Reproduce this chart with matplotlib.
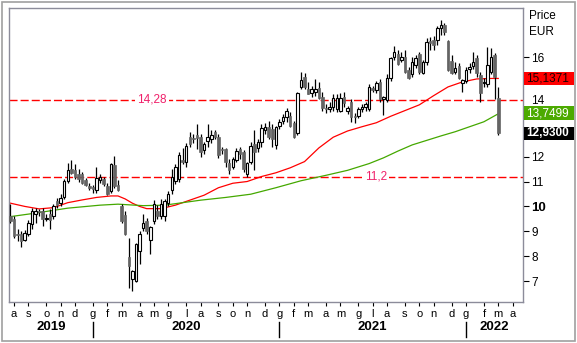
import numpy as np
import pandas as pd
import matplotlib
matplotlib.use('Agg')
import matplotlib.pyplot as plt
import matplotlib.transforms as mtransforms
from matplotlib.patches import Rectangle

plt.rcParams['font.family'] = ['Liberation Sans', 'DejaVu Sans']

# weekly candles, first week starts 2019-07-29
start_date = '2019-07-29'

opens = [9.62, 9.5, 8.9, 8.9, 8.67, 8.88, 9.29, 9.7, 9.8, 9.8,
         9.5, 9.7, 9.6, 10.2, 10.15, 10.38, 11.03, 11.5, 11.47, 11.3,
         11.3, 11.05, 10.8, 10.76, 10.67, 11.07, 11.1, 10.8, 10.6, 11.67,
         10.87, 10.0, 9.65, 7.96, 7.1, 7.0, 8.2, 9.13, 9.4, 8.64,
         9.4, 9.8, 9.6, 9.6, 10.15, 10.67, 11.03, 11.1, 11.87, 11.77,
         12.8, 12.75, 12.85, 12.77, 12.27, 12.62, 12.7, 12.97, 12.8, 12.3,
         12.3, 11.73, 11.6, 11.88, 12.3, 12.17, 11.3, 11.77, 12.5, 12.35,
         12.58, 13.05, 13.18, 13.1, 12.48, 13.25, 13.45, 13.58, 13.65, 13.35,
         12.93, 14.78, 15.2, 14.73, 14.55, 14.6, 14.75, 14.4, 13.95, 13.9,
         14.0, 13.9, 13.85, 14.4, 13.85, 14.2, 13.65, 13.65, 13.9, 14.0,
         13.9, 14.75, 14.67, 15.0, 14.3, 14.26, 15.15, 16.0, 16.12, 15.9,
         16.0, 15.47, 15.3, 15.68, 16.12, 15.36, 15.8, 16.65, 16.7, 16.67,
         17.16, 17.3, 16.65, 15.86, 15.4, 15.64, 14.95, 15.05, 15.5, 15.64,
         15.96, 15.27, 14.95, 14.9, 15.4, 16.1, 14.37]
highs = [10.1, 9.6, 9.1, 9.0, 9.05, 9.45, 9.94, 9.95, 9.9, 9.95,
         9.7, 9.9, 10.1, 10.35, 10.5, 11.1, 11.75, 11.85, 11.7, 11.5,
         11.4, 11.15, 10.95, 10.85, 11.57, 11.3, 11.2, 10.95, 11.75, 12.04,
         11.05, 10.1, 9.8, 8.74, 7.45, 8.55, 9.0, 9.7, 9.55, 9.2,
         10.25, 10.05, 10.3, 10.3, 10.6, 11.5, 11.7, 12.2, 12.35, 12.55,
         13.0, 12.9, 13.3, 12.9, 12.6, 13.3, 13.05, 13.05, 12.9, 12.4,
         12.35, 11.9, 12.0, 12.35, 12.4, 12.25, 11.8, 12.6, 13.05, 12.7,
         13.3, 13.35, 13.45, 13.3, 13.25, 13.5, 13.7, 13.95, 13.8, 13.45,
         14.6, 15.4, 15.35, 15.0, 14.85, 15.1, 15.0, 14.6, 14.1, 14.2,
         14.5, 14.5, 14.55, 14.6, 14.05, 14.3, 13.75, 14.0, 14.1, 14.2,
         14.9, 14.85, 15.05, 15.1, 14.45, 15.3, 16.0, 16.45, 16.3, 16.2,
         16.3, 15.6, 16.0, 16.1, 16.2, 15.9, 16.75, 16.8, 16.85, 17.25,
         17.5, 17.35, 16.7, 16.1, 15.8, 15.75, 15.1, 15.6, 15.75, 16.2,
         16.1, 15.4, 15.15, 16.4, 16.35, 16.15, 14.8]
lows = [9.35, 8.75, 8.6, 8.36, 8.6, 8.8, 9.1, 9.35, 9.6, 9.2,
        9.4, 9.1, 9.5, 9.95, 10.0, 10.3, 10.95, 11.3, 11.1, 11.0,
        10.9, 10.8, 10.65, 10.55, 10.55, 10.95, 10.8, 10.45, 10.55, 10.75,
        10.6, 9.35, 8.85, 6.72, 6.6, 6.95, 7.7, 9.0, 8.9, 8.08,
        9.3, 9.5, 9.5, 9.4, 10.0, 10.5, 10.9, 11.0, 11.7, 11.6,
        12.4, 12.55, 12.3, 12.0, 12.1, 12.4, 12.55, 12.7, 11.95, 12.1,
        11.6, 11.3, 11.5, 11.8, 11.9, 11.4, 11.2, 11.7, 11.45, 12.2,
        12.4, 12.9, 12.7, 12.4, 12.3, 13.1, 13.3, 13.4, 13.2, 12.75,
        12.85, 14.7, 14.7, 14.5, 14.4, 14.45, 14.3, 13.85, 13.75, 13.8,
        13.85, 13.8, 13.8, 14.0, 13.7, 13.4, 13.35, 13.55, 13.8, 13.85,
        13.85, 14.6, 14.55, 14.2, 13.66, 14.2, 15.05, 15.9, 15.7, 15.8,
        15.35, 15.1, 15.2, 15.55, 15.3, 15.3, 15.7, 16.3, 16.3, 16.5,
        16.9, 16.9, 15.45, 15.3, 15.3, 15.1, 14.6, 14.95, 15.35, 15.5,
        15.2, 14.2, 14.8, 14.8, 15.3, 14.3, 12.85]
closes = [9.42, 8.8, 8.85, 8.6, 8.94, 9.35, 9.82, 9.8, 9.78, 9.5,
          9.55, 9.45, 10.0, 10.05, 10.35, 11.03, 11.47, 11.35, 11.2, 11.1,
          10.95, 10.85, 10.75, 10.69, 11.15, 11.2, 10.9, 10.5, 11.7, 10.82,
          10.67, 9.4, 8.9, 7.6, 7.4, 8.5, 8.9, 9.35, 9.0, 9.17,
          10.1, 9.6, 10.1, 10.2, 10.5, 11.2, 11.57, 12.08, 11.77, 12.44,
          12.5, 12.7, 12.75, 12.2, 12.5, 12.77, 12.85, 12.78, 12.08, 12.25,
          11.8, 11.46, 11.9, 12.24, 12.1, 11.5, 11.73, 12.44, 12.17, 12.58,
          13.13, 13.18, 12.78, 12.7, 13.2, 13.39, 13.58, 13.83, 13.25, 12.8,
          14.55, 15.07, 14.8, 14.53, 14.7, 14.7, 14.35, 13.94, 13.9, 14.0,
          14.35, 14.35, 14.35, 14.14, 13.95, 13.6, 13.6, 13.9, 14.0, 14.1,
          14.8, 14.68, 14.95, 14.3, 14.4, 15.15, 15.96, 16.2, 15.72, 16.0,
          15.4, 15.15, 15.8, 15.96, 15.4, 15.8, 16.6, 16.55, 16.5, 17.16,
          17.3, 17.0, 15.47, 15.36, 15.55, 15.14, 15.07, 15.47, 15.6, 15.8,
          15.35, 14.56, 15.0, 15.7, 16.0, 15.2, 12.93]

# moving averages (week index, value)
red_ma_idx = [0, 4, 8, 12, 16, 20, 24, 28, 30, 32, 34, 36, 38, 42, 46, 50, 54, 58, 62,
              66, 70, 74, 78, 82, 86, 90, 94, 98, 102, 106, 110, 114, 118, 122, 126, 130, 134, 136]
red_ma = [10.13, 10.0, 9.9, 9.95, 10.15, 10.26, 10.36, 10.42, 10.42, 10.3, 10.13, 10.0, 9.91,
          9.91, 10.05, 10.25, 10.45, 10.75, 10.93, 11.0, 11.2, 11.35, 11.55, 11.8, 12.35, 12.78,
          13.03, 13.2, 13.36, 13.62, 13.85, 14.08, 14.45, 14.8, 15.0, 15.12, 15.14, 15.14]
green_ma_idx = [0, 6, 16, 25, 30, 37, 43, 53, 60, 67, 74, 81, 88, 94, 100, 104, 108, 112,
                116, 120, 124, 128, 132, 136]
green_ma = [9.59, 9.71, 9.93, 10.05, 10.09, 10.03, 10.05, 10.25, 10.36, 10.49, 10.75, 11.03,
            11.25, 11.45, 11.72, 11.95, 12.22, 12.47, 12.65, 12.83, 13.0, 13.2, 13.4, 13.72]

levels = [14.28, 11.2]
level_labels = ['14,28', '11,2']
last_red, last_green, last_close = 15.1371, 13.7499, 12.93
month_letters = {1: 'g', 2: 'f', 3: 'm', 4: 'a', 5: 'm', 6: 'g', 7: 'l',
                 8: 'a', 9: 's', 10: 'o', 11: 'n', 12: 'd'}
y_ticks = [7, 8, 9, 10, 11, 12, 13, 14, 15, 16]
y_labels = ['7', '8', '9', '10', '11', '12', '', '14', '', '16']  # 13, 15 sit under the value boxes

n = len(closes)
idx = np.arange(n)
dates = pd.date_range(start_date, periods=n + 8, freq='7D')

fig = plt.figure(figsize=(5.77, 3.43), dpi=100)
ax = fig.add_axes([9 / 577, 41 / 343, 514 / 577, 294 / 343])
ax.set_xlim(-0.39, 142.9)
ax.set_ylim(6.16, 17.97)

# moving averages
ax.plot(red_ma_idx, red_ma, color='#ff0000', lw=0.9, zorder=2)
ax.plot(green_ma_idx, green_ma, color='#44a800', lw=0.9, zorder=2)

# horizontal levels
for lv, lab, xl in zip(levels, level_labels, [39.5, 101.9]):
    ax.axhline(lv, color='#ff0000', lw=1.0, ls=(0, (5.8, 2.2)), zorder=1.5)
    ax.text(xl, lv, lab, color='#f0206a', fontsize=8.5, ha='center', va='center',
            bbox=dict(facecolor='white', edgecolor='none', pad=1.5), zorder=1.6)

# candles
o = np.array(opens); h = np.array(highs); l = np.array(lows); c = np.array(closes)
up = c >= o
ax.vlines(idx, l, h, color='black', lw=0.9, zorder=3)
ax.bar(idx[up], (c - o)[up], bottom=o[up], width=0.7, color='white',
       edgecolor='black', lw=0.8, zorder=4)
ax.bar(idx[~up], (o - c)[~up], bottom=c[~up], width=0.7, color='#646464',
       edgecolor='#646464', lw=0.5, zorder=4)

# axes styling
for s in ax.spines.values():
    s.set_color('#8c8c9a')
    s.set_linewidth(1.0)
ax.yaxis.tick_right()
ax.set_yticks(y_ticks)
ax.set_yticklabels(y_labels)
ax.tick_params(axis='y', length=4, width=0.8, pad=2, labelsize=8.5, colors='black')
for t in ax.get_yticklabels():
    if t.get_text() == '10':
        t.set_fontweight('bold')
        t.set_fontsize(9.5)
    if t.get_text() == '14':
        t.set_va('bottom')

# month ticks
m_idx, m_lab, jan_idx = [], [], []
for i in range(1, len(dates)):
    if dates[i].month != dates[i - 1].month and i <= 142:
        m_idx.append(i)
        m_lab.append(month_letters[dates[i].month])
        if dates[i].month == 1:
            jan_idx.append(i)
ax.set_xticks(m_idx)
ax.set_xticklabels(m_lab)
ax.tick_params(axis='x', length=3, width=0.8, pad=2, labelsize=8)

# years
trans = mtransforms.blended_transform_factory(ax.transData, ax.transAxes)
bounds = [-0.39] + jan_idx + [142.9]
years = ['2019', '2020', '2021', '2022']
for k, yr in enumerate(years):
    ax.text((bounds[k] + bounds[k + 1]) / 2, -0.085, yr, transform=trans, ha='center',
            va='center', fontsize=9.5, fontweight='bold')
for j in jan_idx:
    ax.plot([j, j], [-0.068, -0.12], transform=trans, color='black', lw=1, clip_on=False)

# value boxes on right
tr2 = mtransforms.blended_transform_factory(ax.transAxes, ax.transData)
bh = 13.5 / 24.89
for val, fc, tc, txt in [(last_red, '#ff0000', '#1a0000', '15,1371'),
                         (last_green, '#4caa00', 'white', '13,7499'),
                         (last_close, 'black', 'white', '12,9300')]:
    ax.add_patch(Rectangle((1.002, val - bh / 2), 0.0975, bh, transform=tr2,
                           facecolor=fc, edgecolor='none', clip_on=False, zorder=5))
    ax.text(1.006, val, txt, transform=tr2, color=tc, fontsize=8.5, ha='left',
            va='center', fontweight='bold' if fc == 'black' else 'normal',
            clip_on=False, zorder=6)

fig.text(529 / 577, 1 - 16 / 343, 'Price', fontsize=8.5, va='center')
fig.text(529 / 577, 1 - 32 / 343, 'EUR', fontsize=8.5, va='center')

fig.add_artist(Rectangle((1.5 / 577, 2 / 343), 573 / 577, 339 / 343, fill=False,
                         edgecolor='#a0a0a0', lw=1.2, transform=fig.transFigure))

fig.savefig('out.png', dpi=100)
